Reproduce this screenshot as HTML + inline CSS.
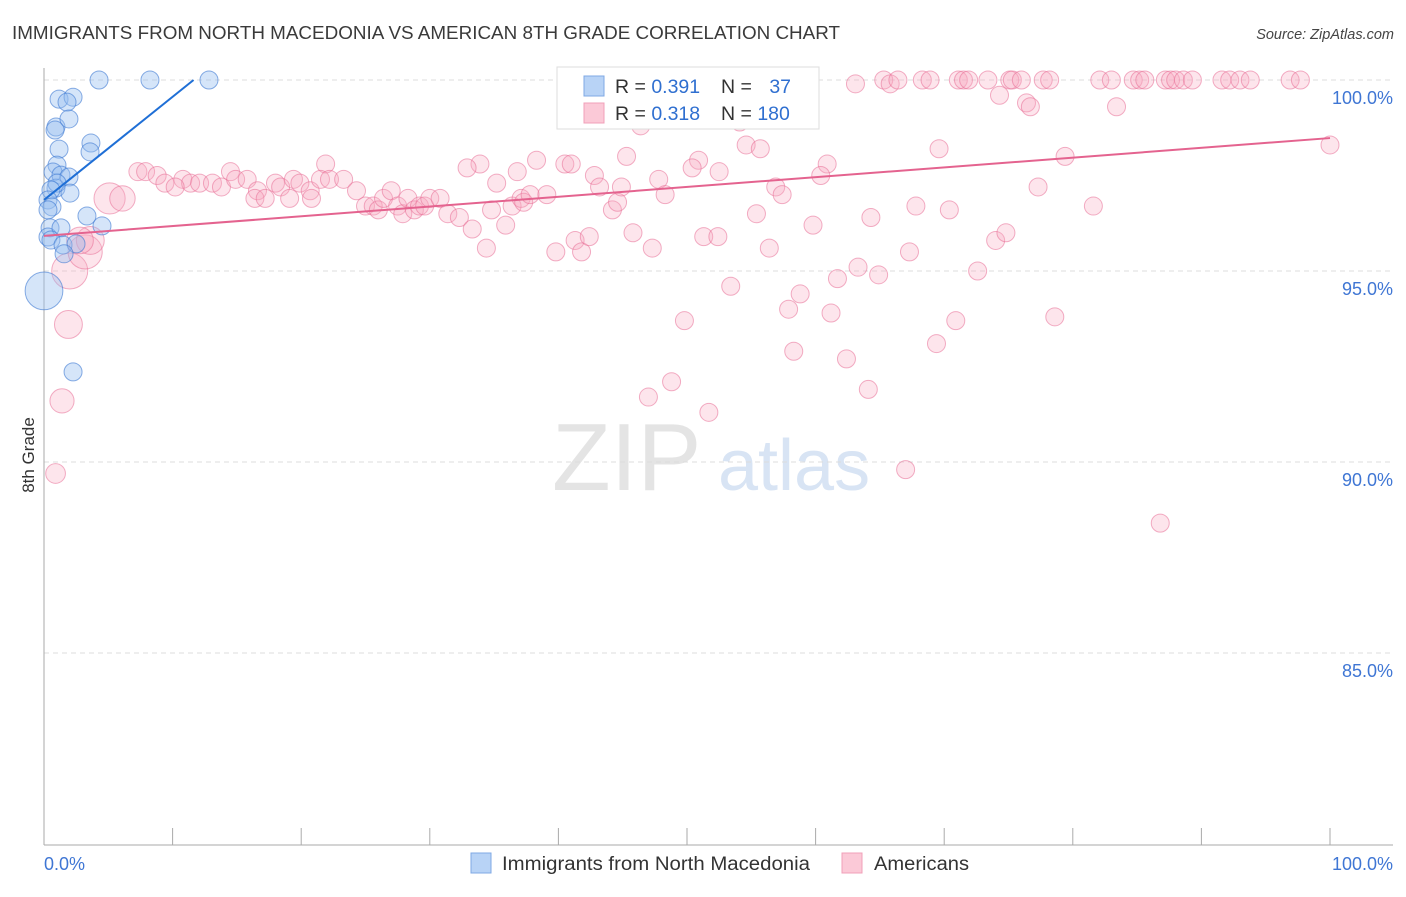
<!DOCTYPE html>
<html><head><meta charset="utf-8"><style>
body{margin:0;background:#fff;font-family:"Liberation Sans",sans-serif;}
svg text{font-family:"Liberation Sans",sans-serif;}
</style></head><body>
<svg id="chart" width="1406" height="892" xmlns="http://www.w3.org/2000/svg">
<text x="12" y="39" font-size="18.5" fill="#3a3a3a" textLength="828" lengthAdjust="spacingAndGlyphs">IMMIGRANTS FROM NORTH MACEDONIA VS AMERICAN 8TH GRADE CORRELATION CHART</text>
<text x="1394" y="39" font-size="14.5" fill="#444" text-anchor="end" font-style="italic">Source: ZipAtlas.com</text>
<g>
<text x="552" y="490" font-size="96" fill="#e4e4e4" font-family="Liberation Serif" >ZIP</text>
<text x="718" y="490" font-size="72" fill="#d8e4f4">atlas</text>
</g>
<g id="grid"></g>
<g id="axes"></g>
<g id="pink"></g>
<g id="blue"></g>
<g id="trends"></g>
<text transform="translate(34,455) rotate(-90)" font-size="17" fill="#333" text-anchor="middle">8th Grade</text>
<g>
<rect x="557" y="67" width="262" height="62" fill="#fff" stroke="#ddd"/>
<rect x="584" y="76" width="20" height="20" fill="#b8d3f6" stroke="#7fa8e4"/>
<rect x="584" y="103" width="20" height="20" fill="#fbc9d7" stroke="#f0a0b8"/>
<text x="615" y="93" font-size="19.5" fill="#333">R = <tspan fill="#2f6fd0">0.391</tspan></text>
<text x="721" y="93" font-size="19.5" fill="#333">N = <tspan fill="#2f6fd0" dx="12">37</tspan></text>
<text x="615" y="120" font-size="19.5" fill="#333">R = <tspan fill="#2f6fd0">0.318</tspan></text>
<text x="721" y="120" font-size="19.5" fill="#333">N = <tspan fill="#2f6fd0">180</tspan></text>
</g>
<g>
<rect x="471" y="853" width="20" height="20" fill="#b8d3f6" stroke="#7fa8e4"/>
<text x="502" y="870" font-size="19" fill="#333" textLength="308" lengthAdjust="spacingAndGlyphs">Immigrants from North Macedonia</text>
<rect x="842" y="853" width="20" height="20" fill="#fbc9d7" stroke="#f0a0b8"/>
<text x="874" y="870" font-size="19" fill="#333" textLength="95" lengthAdjust="spacingAndGlyphs">Americans</text>
</g>
</svg>
<script>
const yTicks=[100,95,90,85];
const yTickLabels=["100.0%","95.0%","90.0%","85.0%"];
const xTickLabels=["0.0%","100.0%"];
const blueX=[4.28,8.24,12.83,1.17,2.26,1.79,0.93,1.94,0.86,1.17,3.65,3.58,1.01,0.70,1.32,0.93,1.94,1.01,0.54,2.02,0.31,0.62,0.31,0.47,0.31,3.34,1.32,4.51,0.54,1.48,2.49,1.56,0,2.26];
const blueY=[100,100,100,99.5,99.55,99.42,98.77,98.98,98.69,98.19,98.35,98.12,97.77,97.59,97.51,97.17,97.46,97.3,97.12,97.04,96.86,96.68,96.6,96.13,95.89,96.44,96.13,96.18,95.81,95.68,95.71,95.45,94.48,92.36];
const blueW=[1,1,1,1,1,1,1,1,1,1,1,1,1,1,1,1,1,1,1,1,1,1,1,1,1,1,1,1,1,1,1,1,4.4,1];
const pinkX=[59.3,63.1,65.3,65.8,66.4,68.3,68.9,71.1,71.5,71.9,73.4,75.1,75.3,76.0,77.7,78.2,82.1,83.0,84.7,85.2,85.6,87.2,87.6,88.0,88.6,89.3,91.6,92.2,93.0,93.8,96.9,97.7,
74.3,76.4,76.7,83.4,52.8,54.1,46.4,54.6,55.7,69.6,100,45.3,50.9,60.9,79.4,38.3,40.5,41.0,33.9,32.9,36.8,42.8,50.4,60.4,47.8,52.5,14.5,21.9,7.3,7.9,8.8,9.4,10.8,11.4,10.2,12.1,13.1,13.8,14.9,15.8,16.6,18.0,18.4,19.4,19.9,20.7,21.5,22.2,23.3,24.3,25.0,25.6,26.0,26.4,27.0,27.5,27.9,28.3,28.8,29.2,29.6,30.0,30.8,31.4,32.3,33.3,34.4,34.8,35.2,35.9,36.4,37.1,37.3,37.8,39.1,39.8,41.3,41.8,42.4,43.2,44.2,44.6,44.9,45.8,47.3,48.3,49.8,48.8,47.0,51.3,51.7,52.4,53.4,55.4,56.4,56.9,57.4,57.9,58.3,58.8,59.8,61.2,61.7,62.4,63.3,64.1,64.3,64.9,67.0,67.3,67.8,69.4,70.4,70.9,72.6,74.0,74.8,77.3,78.6,81.6,86.8,16.4,17.2,19.1,20.8,
2.0,3.2,1.9,1.4,0.9,5.1,6.1,3.6,2.8];
const pinkY=[100,99.9,100,99.9,100,100,100,100,100,100,100,100,100,100,100,100,100,100,100,100,100,100,100,100,100,100,100,100,100,100,100,100,
99.6,99.4,99.3,99.3,99.1,98.9,98.8,98.3,98.2,98.2,98.3,98.0,97.9,97.8,98.0,97.9,97.8,97.8,97.8,97.7,97.6,97.5,97.7,97.5,97.4,97.6,97.6,97.8,97.6,97.6,97.5,97.3,97.4,97.3,97.2,97.3,97.3,97.2,97.4,97.4,97.1,97.3,97.2,97.4,97.3,97.1,97.4,97.4,97.4,97.1,96.7,96.7,96.6,96.9,97.1,96.7,96.5,96.9,96.6,96.7,96.7,96.9,96.9,96.5,96.4,96.1,95.6,96.6,97.3,96.2,96.7,96.9,96.8,97.0,97.0,95.5,95.8,95.5,95.9,97.2,96.6,96.8,97.2,96.0,95.6,97.0,93.7,92.1,91.7,95.9,91.3,95.9,94.6,96.5,95.6,97.2,97.0,94.0,92.9,94.4,96.2,93.9,94.8,92.7,95.1,91.9,96.4,94.9,89.8,95.5,96.7,93.1,96.6,93.7,95.0,95.8,96.0,97.2,93.8,96.7,88.4,96.9,96.9,96.9,96.9,
95.0,95.5,93.6,91.6,89.7,96.9,96.9,95.8,95.8];
const pinkW=[];for(let i=0;i<pinkX.length;i++)pinkW.push(1);
const pinkBig=[4,3.6,2.4,1.8,1.2,3,2,2.4,2.2];
for(let i=0;i<pinkBig.length;i++)pinkW[pinkX.length-pinkBig.length+i]=pinkBig[i];
const blueTrend=[96.86,0.27];
const pinkTrend=[95.92,0.0256];

const X=v=>44+v*12.86, Y=v=>80+(100-v)*38.2;
const NS="http://www.w3.org/2000/svg";
function mk(t,a,p){const e=document.createElementNS(NS,t);for(const k in a)e.setAttribute(k,a[k]);p.appendChild(e);return e;}
const grid=document.getElementById('grid');
yTicks.forEach((t,i)=>{
 const l=mk('line',{x1:44,x2:1393,y1:Y(t),y2:Y(t),stroke:'#ddd','stroke-dasharray':'5,4'},grid);
 
 
 const tx=mk('text',{x:1393,y:Y(t)+24,'font-size':18,fill:'#3f76d4','text-anchor':'end'},grid);
 tx.textContent=yTickLabels[i];
 
 
});
const ax=document.getElementById('axes');
mk('line',{x1:44,x2:44,y1:68,y2:845,stroke:'#aaa'},ax);
mk('line',{x1:44,x2:1393,y1:845,y2:845,stroke:'#aaa'},ax);
for(let i=0;i<=10;i++){mk('line',{x1:X(i*10),x2:X(i*10),y1:828,y2:845,stroke:'#aaa'},ax);}
const xl0=mk('text',{x:44,y:870,'font-size':18,fill:'#3f76d4'},ax);xl0.textContent=xTickLabels[0];


const xl1=mk('text',{x:1393,y:870,'font-size':18,fill:'#3f76d4','text-anchor':'end'},ax);xl1.textContent=xTickLabels[1];


const pg=document.getElementById('pink');
pinkX.forEach((x,i)=>{const c=mk('circle',{cx:X(x),cy:Y(pinkY[i]),r:9*Math.sqrt(pinkW[i]),fill:'rgba(247,168,192,0.3)',stroke:'rgba(232,110,150,0.55)','stroke-width':1},pg);
 
 });
const bg=document.getElementById('blue');
blueX.forEach((x,i)=>{const c=mk('circle',{cx:X(x),cy:Y(blueY[i]),r:9*Math.sqrt(blueW[i]),fill:'rgba(150,190,240,0.4)',stroke:'rgba(60,120,210,0.6)','stroke-width':1},bg);
 
 });
const tg=document.getElementById('trends');
const bx2=(100-blueTrend[0])/blueTrend[1];
const bl=mk('line',{x1:X(0),y1:Y(blueTrend[0]),x2:X(bx2),y2:Y(100),stroke:'#1f6fd6','stroke-width':2},tg);


const pl=mk('line',{x1:X(0),y1:Y(pinkTrend[0]),x2:X(100),y2:Y(pinkTrend[0]+100*pinkTrend[1]),stroke:'#e4638f','stroke-width':2},tg);


</script>
</body></html>
